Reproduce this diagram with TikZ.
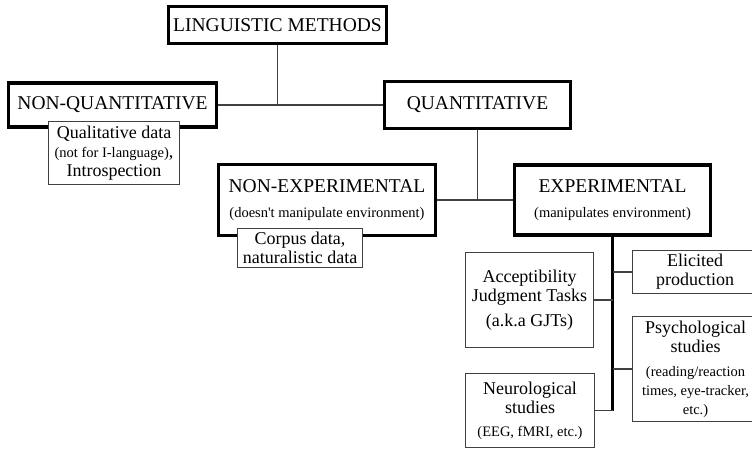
\documentclass[tikz,border=0pt]{standalone}
\usepackage{fontspec}
\setmainfont{Liberation Serif}
\newcommand{\headfont}{\fontsize{19.5}{22}\selectfont}
\newcommand{\midfont}{\fontsize{18}{19}\selectfont}
\newcommand{\smallfont}{\fontsize{14.5}{15}\selectfont}

\begin{document}
\begin{tikzpicture}
[x=1pt,y=-1pt,
  headbox/.style={shape=rectangle,draw,line width=3.2pt,fill=white,align=center,inner sep=0pt,font=\headfont},%
  notebox/.style={shape=rectangle,draw=black!75,line width=1.6pt,fill=white,align=center,inner sep=0pt,font=\midfont},%
  linedecorate/.style={-,draw=black!75,line width=1.9pt},%
  trunkline/.style={-,line width=2.8pt}]
\useasboundingbox (0,0) rectangle (752,449);
%% main boxes
\foreach \nodename/\x/\y/\w/\h/\nodetext in {
  ling/277.5/25/218/37/{LINGUISTIC METHODS},
  nonq/112.5/105/208/44/{NON-QUANTITATIVE},
  quant/477.5/105/186/47/{QUANTITATIVE},
  nonexp/327/200/217/71/{NON-EXPERIMENTAL\\[3pt]{\smallfont (doesn\textquotesingle t manipulate environment)}},
  exp/612.5/200/196/70/{EXPERIMENTAL\\[3pt]{\smallfont (manipulates environment)}}} {
  \node (\nodename) at (\x,\y) [headbox,minimum width=\w pt,minimum height=\h pt] {\nodetext};
}
%% small boxes
\foreach \nodename/\x/\y/\w/\h/\nodetext in {
  qual/114/153/131/63/{Qualitative data\\{\smallfont (not for I-language)},\\Introspection},
  corpus/300/248/125/39/{Corpus data,\\naturalistic data},
  accept/529.5/300/128/95/{Acceptibility\\Judgment Tasks\\[6pt](a.k.a GJTs)},
  elicit/695/272/125/43/{Elicited\\production},
  psych/695.5/369/126/105/{Psychological\\studies\\[5pt]{\smallfont (reading/reaction}\\{\smallfont times, eye-tracker,}\\{\smallfont etc.)}},
  neuro/530/410.5/129/74/{Neurological\\studies\\[4pt]{\smallfont (EEG, fMRI, etc.)}}} {
  \node (\nodename) at (\x,\y) [notebox,minimum width=\w pt,minimum height=\h pt] {\nodetext};
}
%% connectors
\draw[linedecorate] (ling) -- (ling |- nonq);
\draw[linedecorate] (nonq) -- (quant);
\draw[linedecorate] (quant) -- (quant |- nonexp);
\draw[linedecorate] (nonexp) -- (exp);
\draw[trunkline] (exp) -- (exp |- neuro);
\foreach \leafname in {accept, elicit, psych, neuro} {
  \draw[linedecorate] (\leafname) -- (\leafname -| exp);
}
\end{tikzpicture}
\end{document}
